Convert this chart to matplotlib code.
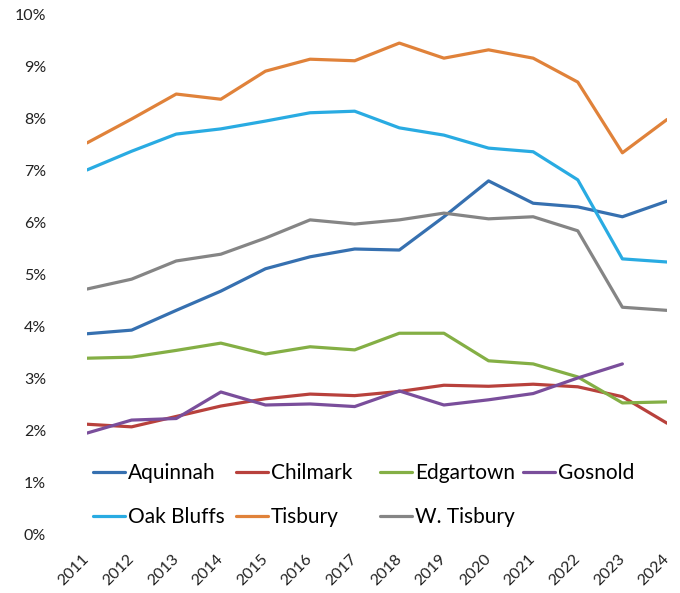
import matplotlib
matplotlib.use("Agg")
import matplotlib.pyplot as plt
from matplotlib.ticker import FuncFormatter

years = list(range(2011, 2025))
aquinnah = [3.87, 3.94, 4.32, 4.69, 5.12, 5.35, 5.50, 5.48, 6.12, 6.81, 6.38, 6.31, 6.12, 6.42]
chilmark = [2.13, 2.08, 2.28, 2.48, 2.62, 2.71, 2.68, 2.76, 2.88, 2.86, 2.90, 2.85, 2.66, 2.15]
edgartown = [3.40, 3.42, 3.55, 3.69, 3.48, 3.62, 3.56, 3.88, 3.88, 3.35, 3.29, 3.04, 2.54, 2.56]
gosnold = [1.96, 2.21, 2.24, 2.75, 2.50, 2.52, 2.47, 2.77, 2.50, 2.60, 2.72, 3.02, 3.29, None]
oak_bluffs = [7.02, 7.38, 7.71, 7.81, 7.96, 8.12, 8.15, 7.83, 7.69, 7.44, 7.37, 6.83, 5.31, 5.25]
tisbury = [7.54, 8.00, 8.48, 8.38, 8.92, 9.15, 9.12, 9.46, 9.17, 9.33, 9.17, 8.71, 7.35, 7.99]
w_tisbury = [4.73, 4.92, 5.27, 5.40, 5.71, 6.06, 5.98, 6.06, 6.19, 6.08, 6.12, 5.85, 4.38, 4.32]

series = [
    ("Aquinnah", aquinnah, "#3670B0"),
    ("Chilmark", chilmark, "#B8413C"),
    ("Edgartown", edgartown, "#84AF45"),
    ("Gosnold", gosnold, "#7A4E9B"),
    ("Oak Bluffs", oak_bluffs, "#29ABE2"),
    ("Tisbury", tisbury, "#E0823A"),
    ("W. Tisbury", w_tisbury, "#858585"),
]

plt.rcParams['font.family'] = ['Lato', 'DejaVu Sans']

W, H = 680, 593
fig = plt.figure(figsize=(W / 100, H / 100), dpi=100)
ax = fig.add_axes([87 / W, 1 - 535 / H, 580 / W, 520 / H])

handles = []
for name, vals, color in series:
    xs = [y for y, v in zip(years, vals) if v is not None]
    vs = [v for v in vals if v is not None]
    h, = ax.plot(xs, vs, color=color, lw=2.3, label=name,
                 solid_capstyle='round', solid_joinstyle='round')
    handles.append(h)

ax.set_xlim(2011, 2024)
ax.set_ylim(0, 10)
ax.set_yticks(range(0, 11))
ax.yaxis.set_major_formatter(FuncFormatter(lambda v, p: f"{int(v)}%"))
ax.set_xticks(years)
ax.set_xticklabels([str(y) for y in years], rotation=45, ha='right', va='center',
                   rotation_mode='anchor')
ax.tick_params(axis='both', length=0, labelsize=11.5, colors='#222222')
ax.tick_params(axis='y', pad=29.5)
ax.tick_params(axis='x', pad=15.5)
for s in ax.spines.values():
    s.set_visible(False)

# legend: 4 equal-width columns, 2 rows (row-major order)
col_x = [93, 236, 380, 523]
row_y = [473, 517]
for i, h in enumerate(handles):
    r, c = divmod(i, 4)
    fig.legend(handles=[h], labels=[h.get_label()], loc='center left',
               bbox_to_anchor=(col_x[c] / W, 1 - row_y[r] / H),
               frameon=False, fontsize=15, handlelength=1.55, handletextpad=0.12,
               borderpad=0, borderaxespad=0)

fig.savefig("out.png", dpi=100)
